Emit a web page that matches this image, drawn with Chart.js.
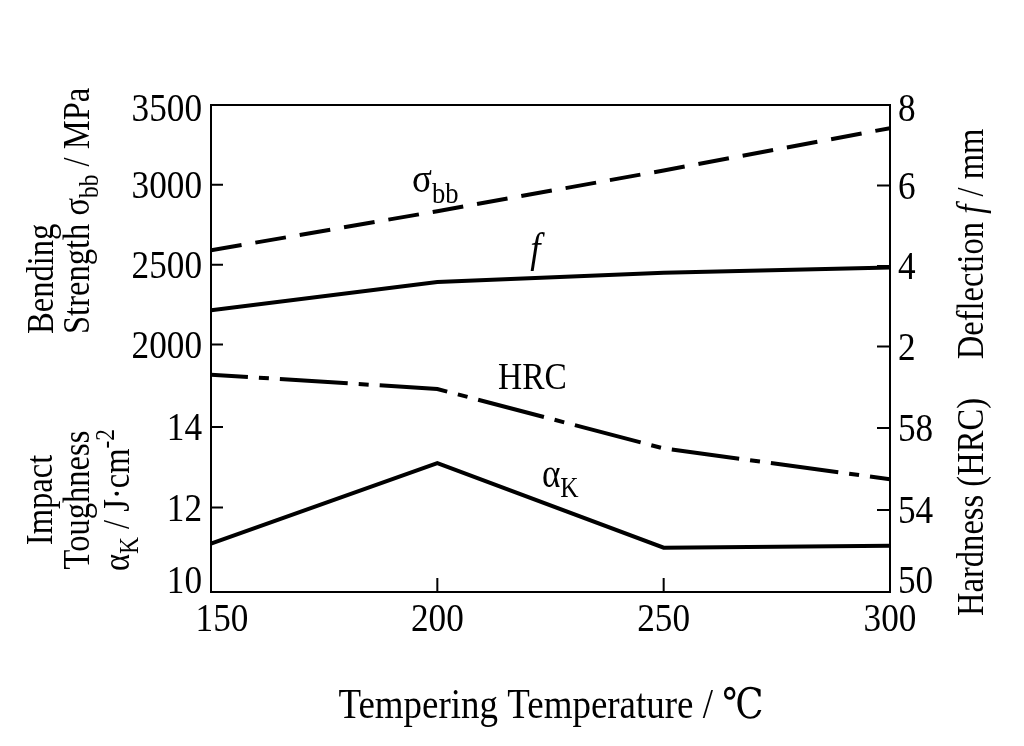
<!DOCTYPE html>
<html>
<head>
<meta charset="utf-8">
<script src="https://cdn.jsdelivr.net/npm/chart.js@4.4.0/dist/chart.umd.min.js"></script>
<style>
    html, body { margin: 0; padding: 0; background: #fff; }
    #wrap { width: 1024px; height: 746px; }
</style>
</head>
<body>
<div id="wrap"><canvas id="Chart"></canvas></div>
<script>
// values
const temperatures = [150, 200, 250, 300];          // tempering temperature, C
const bendingStrength = [2590, 2835, 3090, 3355];   // sigma bb, MPa
const deflection = [2.9, 3.6, 3.83, 3.96];          // f, mm
const hardness = [60.6, 59.9, 57.0, 55.5];          // HRC
const impactToughness = [11.1, 13.1, 11.0, 11.05];  // aK, J/cm2

const tempTicks = [150, 200, 250, 300];
const strengthTicks = [2000, 2500, 3000, 3500];
const impactTicks = [10, 12, 14];
const deflectionTicks = [2, 4, 6, 8];
const hardnessTicks = [50, 54, 58];

// the four value axes share one plot box, so each range is picked to line up with the others
const ranges = {
    yS: { min: 450, max: 3500 },
    yK: { min: 9.9, max: 22 },
    yF: { min: -4.1, max: 8 },
    yH: { min: 50, max: 73.75 }
};

const FONT = '"Liberation Serif", "DejaVu Serif", serif';
const SQUEEZE = 0.88; // the figure's lettering is a narrow serif

// move a value from one axis range to the same height on another
function convert(v, from, to) {
    return to.min + (v - from.min) / (from.max - from.min) * (to.max - to.min);
}

function points(values) {
    return temperatures.map((t, i) => ({ x: t, y: values[i] }));
}

// draws text with sub/superscript parts, optionally turned upright
function drawRuns(ctx, runs, x, y, size, align, vertical, baseline) {
    const parts = runs.map(r => {
        const s = (r.sub || r.sup) ? size * 0.72 : size;
        const font = (r.italic ? 'italic ' : '') + s + 'px ' + FONT;
        ctx.font = font;
        return { t: r.t, font, w: ctx.measureText(r.t).width, dy: r.sub ? size * 0.25 : (r.sup ? -size * 0.4 : 0) };
    });
    const total = parts.reduce((a, p) => a + p.w, 0);
    ctx.save();
    ctx.translate(x, y);
    if (vertical) ctx.rotate(-Math.PI / 2);
    ctx.scale(SQUEEZE, 1);
    ctx.textAlign = 'left';
    ctx.textBaseline = baseline || 'alphabetic';
    ctx.fillStyle = '#000';
    let cx = align === 'center' ? -total / 2 : (align === 'right' ? -total : 0);
    parts.forEach(p => {
        ctx.font = p.font;
        ctx.fillText(p.t, cx, p.dy);
        cx += p.w;
    });
    ctx.restore();
}

const frame = {
    id: 'frame',
    afterDraw(chart) {
        const ctx = chart.ctx;
        const { left, right, top, bottom } = chart.chartArea;
        const sx = chart.scales.x;
        const sS = chart.scales.yS;
        const sF = chart.scales.yF;
        ctx.save();
        ctx.strokeStyle = '#000';
        ctx.lineWidth = 2;
        ctx.strokeRect(left, top, right - left, bottom - top);

        // inward tick marks
        ctx.beginPath();
        sS.ticks.forEach(t => {
            const y = sS.getPixelForValue(t.value);
            if (y - top > 6 && bottom - y > 6) { ctx.moveTo(left, y); ctx.lineTo(left + 12, y); }
        });
        sF.ticks.forEach(t => {
            const y = sF.getPixelForValue(t.value);
            if (y - top > 6 && bottom - y > 6) { ctx.moveTo(right, y); ctx.lineTo(right - 13, y); }
        });
        sx.ticks.forEach(t => {
            const x = sx.getPixelForValue(t.value);
            if (x - left > 6 && right - x > 6) { ctx.moveTo(x, bottom); ctx.lineTo(x, bottom - 14); }
        });
        ctx.stroke();
        ctx.restore();

        // tick labels, kept inside the frame height at the corners
        const labelY = p => Math.min(Math.max(p + 3, top + 5), bottom - 10);
        sS.ticks.forEach(t => drawRuns(ctx, [{ t: t.txt }], left - 9, labelY(sS.getPixelForValue(t.value)), 40, 'right', false, 'middle'));
        sF.ticks.forEach(t => drawRuns(ctx, [{ t: t.txt }], right + 8, labelY(sF.getPixelForValue(t.value)), 40, 'left', false, 'middle'));
        sx.ticks.forEach(t => drawRuns(ctx, [{ t: String(t.value) }], Math.max(sx.getPixelForValue(t.value), left + 11), bottom + 39, 40, 'center', false));

        // curve names inside the plot
        drawRuns(ctx, [{ t: 'σ' }, { t: 'bb', sub: true }], sx.getPixelForValue(194.4), sS.getPixelForValue(2955), 42, 'left', false);
        drawRuns(ctx, [{ t: 'f', italic: true }], sx.getPixelForValue(220.5), sF.getPixelForValue(4.1), 42, 'left', false);
        drawRuns(ctx, [{ t: 'HRC' }], sx.getPixelForValue(213.4), chart.scales.yH.getPixelForValue(59.9), 38, 'left', false);
        drawRuns(ctx, [{ t: 'α' }, { t: 'K', sub: true }], sx.getPixelForValue(223.1), chart.scales.yK.getPixelForValue(12.51), 40, 'left', false);

        // axis titles
        drawRuns(ctx, [{ t: 'Bending' }], 53, 334, 37, 'left', true);
        drawRuns(ctx, [{ t: 'Strength σ' }, { t: 'bb', sub: true }, { t: ' / MPa' }], 89, 334, 37, 'left', true);
        drawRuns(ctx, [{ t: 'Impact' }], 52, 500, 37, 'center', true);
        drawRuns(ctx, [{ t: 'Toughness' }], 89, 500, 37, 'center', true);
        drawRuns(ctx, [{ t: 'α' }, { t: 'K', sub: true }, { t: ' / J·cm' }, { t: '-2', sup: true }], 129, 500, 37, 'center', true);
        drawRuns(ctx, [{ t: 'Deflection ' }, { t: 'f', italic: true }, { t: ' / mm' }], 983, 244, 37, 'center', true);
        drawRuns(ctx, [{ t: 'Hardness (HRC)' }], 983, 507, 37, 'center', true);
        drawRuns(ctx, [{ t: 'Tempering Temperature / ℃' }], 551, 718, 42, 'center', false);
    }
};

const line = {
    borderColor: '#000',
    borderWidth: 4,
    pointRadius: 0,
    fill: false,
    tension: 0,
    borderCapStyle: 'butt',
    borderJoinStyle: 'miter'
};

const hidden = key => ({
    type: 'linear',
    display: false,
    bounds: 'data',
    min: ranges[key].min,
    max: ranges[key].max
});

Chart.defaults.font.family = FONT;
Chart.defaults.font.size = 36;
Chart.defaults.color = '#000';

const chartCanvas = document.getElementById('Chart');
const config = new Chart(chartCanvas, {
    type: 'line',
    data: {
        datasets: [
            Object.assign({ label: 'σbb', data: points(bendingStrength), yAxisID: 'yS', borderDash: [31, 14] }, line),
            Object.assign({ label: 'f', data: points(deflection), yAxisID: 'yF' }, line),
            Object.assign({ label: 'HRC', data: points(hardness), yAxisID: 'yH', borderDash: [68, 11, 10, 11], borderDashOffset: 31 }, line),
            Object.assign({ label: 'αK', data: points(impactToughness), yAxisID: 'yK' }, line)
        ]
    },
    options: {
        responsive: true,
        maintainAspectRatio: false,
        animation: false,
        devicePixelRatio: 1,
        layout: { padding: { left: 0, right: 0, top: 105, bottom: 0 } },
        plugins: {
            legend: { display: false },
            tooltip: { enabled: false }
        },
        scales: {
            x: {
                type: 'linear',
                bounds: 'data',
                min: 150,
                max: 300,
                grid: { display: false, drawTicks: false },
                border: { display: false },
                afterBuildTicks: axis => { axis.ticks = tempTicks.map(v => ({ value: v })); },
                afterFit: axis => { axis.height = 154; },
                ticks: { display: false, autoSkip: false, maxRotation: 0 }
            },
            yS: {
                type: 'linear',
                position: 'left',
                bounds: 'data',
                min: ranges.yS.min,
                max: ranges.yS.max,
                grid: { display: false, drawTicks: false },
                border: { display: false },
                afterBuildTicks: axis => {
                    const t = strengthTicks.map(v => ({ value: v, txt: String(v) }));
                    impactTicks.forEach(v => t.push({ value: convert(v, ranges.yK, ranges.yS), txt: String(v) }));
                    axis.ticks = t.sort((a, b) => a.value - b.value);
                },
                afterFit: axis => { axis.width = 211; },
                ticks: { display: false, autoSkip: false }
            },
            yK: Object.assign({ position: 'left' }, hidden('yK')),
            yF: {
                type: 'linear',
                position: 'right',
                bounds: 'data',
                min: ranges.yF.min,
                max: ranges.yF.max,
                grid: { display: false, drawTicks: false },
                border: { display: false },
                afterBuildTicks: axis => {
                    const t = deflectionTicks.map(v => ({ value: v, txt: String(v) }));
                    hardnessTicks.forEach(v => t.push({ value: convert(v, ranges.yH, ranges.yF), txt: String(v) }));
                    axis.ticks = t.sort((a, b) => a.value - b.value);
                },
                afterFit: axis => { axis.width = 134; },
                ticks: { display: false, autoSkip: false }
            },
            yH: Object.assign({ position: 'right' }, hidden('yH'))
        }
    },
    plugins: [frame]
});
</script>
</body>
</html>
